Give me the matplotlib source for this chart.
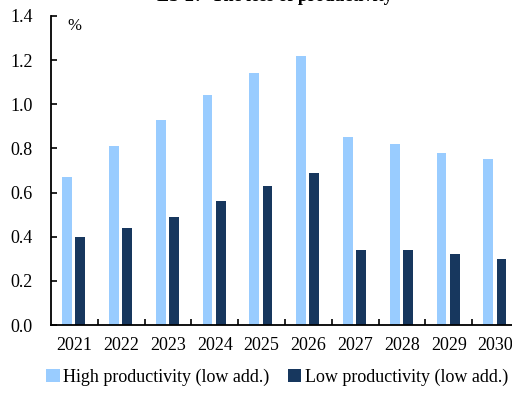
import matplotlib
matplotlib.use("Agg")
import matplotlib.pyplot as plt
import numpy as np

years = ["2021", "2022", "2023", "2024", "2025", "2026", "2027", "2028", "2029", "2030"]
high_prod = [0.67, 0.81, 0.93, 1.04, 1.14, 1.22, 0.85, 0.82, 0.78, 0.75]
low_prod = [0.40, 0.44, 0.49, 0.56, 0.63, 0.69, 0.34, 0.34, 0.32, 0.30]
series_names = ["High productivity (low add.)", "Low productivity (low add.)"]

plt.rcParams["font.family"] = ["Liberation Serif", "DejaVu Serif"]

fig = plt.figure(figsize=(5.12, 3.96), dpi=100)
ax = fig.add_axes([51 / 512, 71 / 396, 468 / 512, 309 / 396])

x = np.arange(len(years))
w = 0.21
ax.bar(x - 0.155, high_prod, w, color="#99CCFF", label=series_names[0])
ax.bar(x + 0.125, low_prod, w, color="#17375E", label=series_names[1])

ax.set_xlim(-0.5, len(years) - 0.5)
ax.set_ylim(0, 1.4)
ax.set_yticks(np.arange(0, 1.41, 0.2))
ax.set_yticklabels([f"{v:.1f}" for v in np.arange(0, 1.41, 0.2)])
ax.set_xticks(x)
ax.set_xticklabels(years)
ax.set_xticks(np.arange(0.5, len(years) - 0.5, 1), minor=True)
ax.tick_params(axis="x", which="major", length=0, pad=9, labelsize=13)
ax.tick_params(axis="x", which="minor", direction="in", length=4, width=1.2)
ax.tick_params(axis="y", direction="in", length=4, width=1.2, pad=13, labelsize=13)

for s in ["top", "right"]:
    ax.spines[s].set_visible(False)
ax.spines["left"].set_linewidth(1.3)
ax.spines["bottom"].set_linewidth(1.3)

ax.text(0.0, 1.39, "%", fontsize=12, ha="center", va="top")

# title, mostly cut off at the top edge like in the source image
fig.text(275 / 512, 1.0 - 1 / 396, "LS-2?  The loss of productivity",
         fontsize=13, fontweight="bold", ha="center", va="baseline")

fig.legend(loc="lower left", bbox_to_anchor=(30 / 512, -0.015), ncol=2, frameon=False,
           fontsize=13, handlelength=0.75, handleheight=0.75, handletextpad=0.2,
           columnspacing=1.0)

fig.savefig("out.png", dpi=100)
plt.close(fig)
